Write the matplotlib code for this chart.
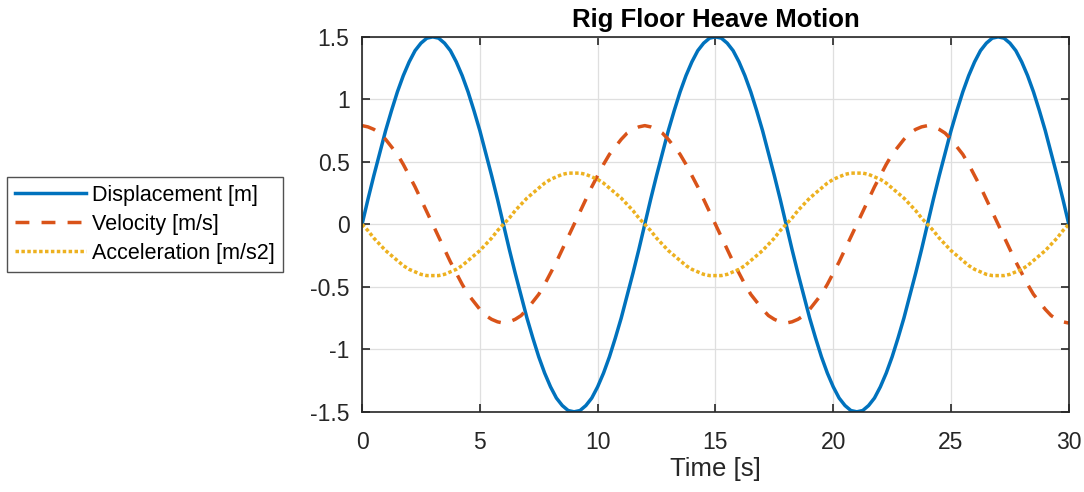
import numpy as np
from matplotlib import pyplot as plt

plt.rcParams['font.family'] = ['Liberation Sans', 'DejaVu Sans']

# time samples [s], every 0.25 s
time = np.arange(0, 30.001, 0.25)

displacement = [
    0, 0.20, 0.39, 0.57, 0.75, 0.91, 1.06, 1.19, 1.30, 1.39, 1.45, 1.49,
    1.50, 1.49, 1.45, 1.39, 1.30, 1.19, 1.06, 0.91, 0.75, 0.57, 0.39, 0.20,
    0, -0.20, -0.39, -0.57, -0.75, -0.91, -1.06, -1.19, -1.30, -1.39, -1.45, -1.49,
    -1.50, -1.49, -1.45, -1.39, -1.30, -1.19, -1.06, -0.91, -0.75, -0.57, -0.39, -0.20,
    0, 0.20, 0.39, 0.57, 0.75, 0.91, 1.06, 1.19, 1.30, 1.39, 1.45, 1.49,
    1.50, 1.49, 1.45, 1.39, 1.30, 1.19, 1.06, 0.91, 0.75, 0.57, 0.39, 0.20,
    0, -0.20, -0.39, -0.57, -0.75, -0.91, -1.06, -1.19, -1.30, -1.39, -1.45, -1.49,
    -1.50, -1.49, -1.45, -1.39, -1.30, -1.19, -1.06, -0.91, -0.75, -0.57, -0.39, -0.20,
    0, 0.20, 0.39, 0.57, 0.75, 0.91, 1.06, 1.19, 1.30, 1.39, 1.45, 1.49,
    1.50, 1.49, 1.45, 1.39, 1.30, 1.19, 1.06, 0.91, 0.75, 0.57, 0.39, 0.20,
    0,
]
velocity = [
    0.79, 0.78, 0.76, 0.73, 0.68, 0.62, 0.56, 0.48, 0.39, 0.30, 0.20, 0.10,
    0, -0.10, -0.20, -0.30, -0.39, -0.48, -0.56, -0.62, -0.68, -0.73, -0.76, -0.78,
    -0.79, -0.78, -0.76, -0.73, -0.68, -0.62, -0.56, -0.48, -0.39, -0.30, -0.20, -0.10,
    0, 0.10, 0.20, 0.30, 0.39, 0.48, 0.56, 0.62, 0.68, 0.73, 0.76, 0.78,
    0.79, 0.78, 0.76, 0.73, 0.68, 0.62, 0.56, 0.48, 0.39, 0.30, 0.20, 0.10,
    0, -0.10, -0.20, -0.30, -0.39, -0.48, -0.56, -0.62, -0.68, -0.73, -0.76, -0.78,
    -0.79, -0.78, -0.76, -0.73, -0.68, -0.62, -0.56, -0.48, -0.39, -0.30, -0.20, -0.10,
    0, 0.10, 0.20, 0.30, 0.39, 0.48, 0.56, 0.62, 0.68, 0.73, 0.76, 0.78,
    0.79, 0.78, 0.76, 0.73, 0.68, 0.62, 0.56, 0.48, 0.39, 0.30, 0.20, 0.10,
    0, -0.10, -0.20, -0.30, -0.39, -0.48, -0.56, -0.62, -0.68, -0.73, -0.76, -0.78,
    -0.79,
]
acceleration = [
    0, -0.05, -0.11, -0.16, -0.21, -0.25, -0.29, -0.33, -0.36, -0.38, -0.40, -0.41,
    -0.41, -0.41, -0.40, -0.38, -0.36, -0.33, -0.29, -0.25, -0.21, -0.16, -0.11, -0.05,
    0, 0.05, 0.11, 0.16, 0.21, 0.25, 0.29, 0.33, 0.36, 0.38, 0.40, 0.41,
    0.41, 0.41, 0.40, 0.38, 0.36, 0.33, 0.29, 0.25, 0.21, 0.16, 0.11, 0.05,
    0, -0.05, -0.11, -0.16, -0.21, -0.25, -0.29, -0.33, -0.36, -0.38, -0.40, -0.41,
    -0.41, -0.41, -0.40, -0.38, -0.36, -0.33, -0.29, -0.25, -0.21, -0.16, -0.11, -0.05,
    0, 0.05, 0.11, 0.16, 0.21, 0.25, 0.29, 0.33, 0.36, 0.38, 0.40, 0.41,
    0.41, 0.41, 0.40, 0.38, 0.36, 0.33, 0.29, 0.25, 0.21, 0.16, 0.11, 0.05,
    0, -0.05, -0.11, -0.16, -0.21, -0.25, -0.29, -0.33, -0.36, -0.38, -0.40, -0.41,
    -0.41, -0.41, -0.40, -0.38, -0.36, -0.33, -0.29, -0.25, -0.21, -0.16, -0.11, -0.05,
    0,
]

labels = ["Displacement [m]", "Velocity [m/s]", "Acceleration [m/s2]"]
xticks = [0, 5, 10, 15, 20, 25, 30]
yticks = [-1.5, -1, -0.5, 0, 0.5, 1, 1.5]
yticklabels = ["-1.5", "-1", "-0.5", "0", "0.5", "1", "1.5"]

fig = plt.figure(figsize=(10.84, 4.92), dpi=100)
ax = fig.add_axes([0.334, 0.163, 0.652, 0.762])

ax.plot(time, displacement, color="#0072BD", lw=2.5, ls="-", label=labels[0])
ax.plot(time, velocity, color="#D95319", lw=2.5, ls=(0, (4, 3.5)), label=labels[1])
ax.plot(time, acceleration, color="#EDB120", lw=2.5, ls=(0, (1, 0.7)), label=labels[2])

ax.set_xlim(0, 30)
ax.set_ylim(-1.5, 1.5)
ax.set_xticks(xticks)
ax.set_yticks(yticks)
ax.set_yticklabels(yticklabels)
ax.grid(True, color="#dfdfdf", lw=0.9)
ax.set_axisbelow(True)
ax.tick_params(direction="in", length=6, width=1.2, colors="#262626", labelsize=16.5,
               top=True, right=True)
ax.tick_params(axis="x", pad=14)
ax.tick_params(axis="y", pad=9)
for s in ax.spines.values():
    s.set_color("#262626")
    s.set_linewidth(1.2)

ax.set_title("Rig Floor Heave Motion", fontsize=18.5, fontweight="bold", pad=7)
ax.set_xlabel("Time [s]", fontsize=18.5, color="#262626", labelpad=2)

leg = ax.legend(loc="center left", bbox_to_anchor=(-0.502, 0.5), fontsize=15.5,
                frameon=True, fancybox=False, edgecolor="#262626",
                handlelength=3.3, handletextpad=0.3, borderpad=0.35, labelspacing=0.38,
                borderaxespad=0)
leg.get_frame().set_linewidth(1.0)
for t in leg.get_texts():
    t.set_color("#000000")

fig.savefig("out.png", dpi=100)
